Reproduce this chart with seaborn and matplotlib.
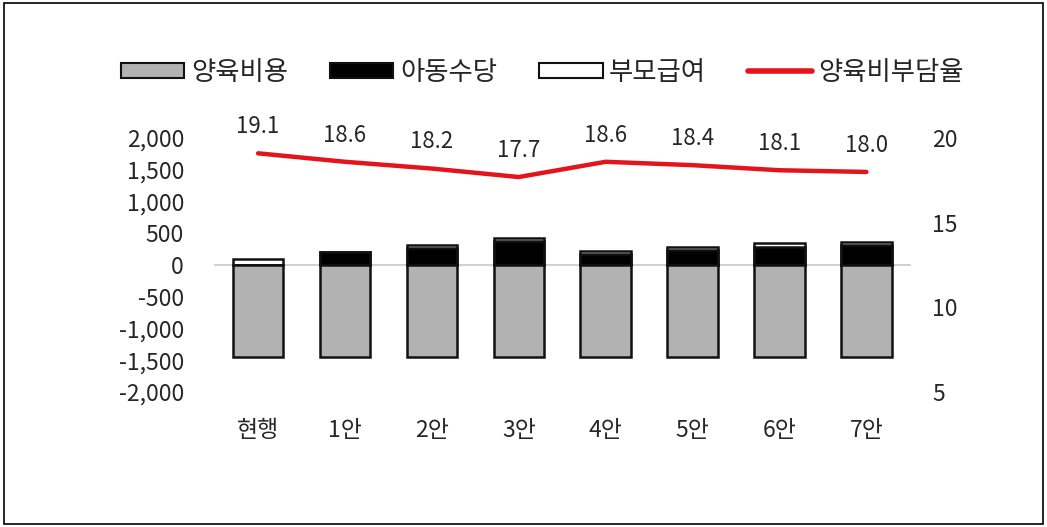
import numpy as np
import pandas as pd
import matplotlib
matplotlib.use('Agg')
import matplotlib.pyplot as plt
import matplotlib.patches as mpatches
from matplotlib.lines import Line2D
import seaborn as sns

sns.set_style('white')
plt.rcParams['font.family'] = ['Noto Sans CJK KR', 'DejaVu Sans']

# data
cats = ['현행', '1안', '2안', '3안', '4안', '5안', '6안', '7안']
cost = [-1450, -1450, -1450, -1450, -1450, -1450, -1450, -1450]   # 양육비용
child = [0, 200, 265, 385, 175, 235, 290, 315]                     # 아동수당
parent = [100, 0, 50, 40, 50, 50, 50, 50]                          # 부모급여
burden = [19.1, 18.6, 18.2, 17.7, 18.6, 18.4, 18.1, 18.0]          # 양육비부담율

df = pd.DataFrame({'cat': cats, 'cost': cost, 'child': child, 'parent': parent, 'burden': burden})
df['top'] = df['child'] + df['parent']

txt = '#262626'
fs = 16.5

fig = plt.figure(figsize=(10.47, 5.27), dpi=100)
ax = fig.add_axes([0.205, 0.256, 0.664, 0.482])

# stacked bars: white (total) first, black over it, gray below zero
sns.barplot(data=df, x='cat', y='top', color='white', edgecolor='#111111', linewidth=1.8,
            width=0.58, saturation=1, ax=ax)
sns.barplot(data=df, x='cat', y='child', color='black', edgecolor='#111111', linewidth=1.8,
            width=0.58, saturation=1, ax=ax)
sns.barplot(data=df, x='cat', y='cost', color='#b2b2b2', edgecolor='#111111', linewidth=1.8,
            width=0.58, saturation=1, ax=ax)

ax.set_ylim(-2000, 2000)
ax.set_xlim(-0.5, len(cats) - 0.5)
ax.set_yticks(np.arange(-2000, 2001, 500))
ax.set_yticklabels([f'{v:,}' for v in np.arange(-2000, 2001, 500)], fontsize=fs, color=txt)
ax.set_xlabel('')
ax.set_ylabel('')
for s in ['left', 'right', 'top']:
    ax.spines[s].set_visible(False)
ax.spines['bottom'].set_position(('data', 0))
ax.spines['bottom'].set_color('#c8c8c8')
ax.spines['bottom'].set_linewidth(1.2)
ax.spines['bottom'].set_zorder(0.5)
ax.set_xticks(np.arange(len(cats) + 1) - 0.5, minor=True)
ax.tick_params(axis='x', which='minor', length=6, color='#c8c8c8', width=1.2, direction='out')
ax.tick_params(axis='x', which='major', length=0, pad=111, labelsize=fs, labelcolor=txt)
ax.tick_params(axis='y', length=0, pad=22)

# burden ratio line on right axis
ax2 = ax.twinx()
sns.lineplot(x=np.arange(len(cats)), y=df['burden'], color='#e3141c', linewidth=3.2, ax=ax2)
ax2.set_ylim(5, 20)
ax2.set_yticks([5, 10, 15, 20])
ax2.set_yticklabels(['5', '10', '15', '20'], fontsize=fs, color=txt)
ax2.tick_params(axis='y', length=0, pad=16)
ax2.set_ylabel('')
for s in ax2.spines.values():
    s.set_visible(False)
for i, v in enumerate(burden):
    ax2.annotate(f'{v:.1f}', (i, v), xytext=(0, 11), textcoords='offset points',
                 ha='center', va='bottom', fontsize=16, color=txt)

handles = [
    mpatches.Patch(facecolor='#b2b2b2', edgecolor='#111111', linewidth=1.5, label='양육비용'),
    mpatches.Patch(facecolor='black', edgecolor='#111111', linewidth=1.5, label='아동수당'),
    mpatches.Patch(facecolor='white', edgecolor='#111111', linewidth=1.5, label='부모급여'),
    Line2D([], [], color='#e3141c', linewidth=4, label='양육비부담율'),
]
fig.legend(handles=handles, loc='center', bbox_to_anchor=(0.518, 0.863), ncol=4, frameon=False,
           fontsize=19, handlelength=2.4, handleheight=0.5, handletextpad=0.25,
           columnspacing=1.6, labelcolor=txt)

fig.patches.append(mpatches.Rectangle((0.004, 0.006), 0.992, 0.988, transform=fig.transFigure,
                                      fill=False, edgecolor='black', linewidth=1.2))

fig.savefig('out.png', dpi=100)
